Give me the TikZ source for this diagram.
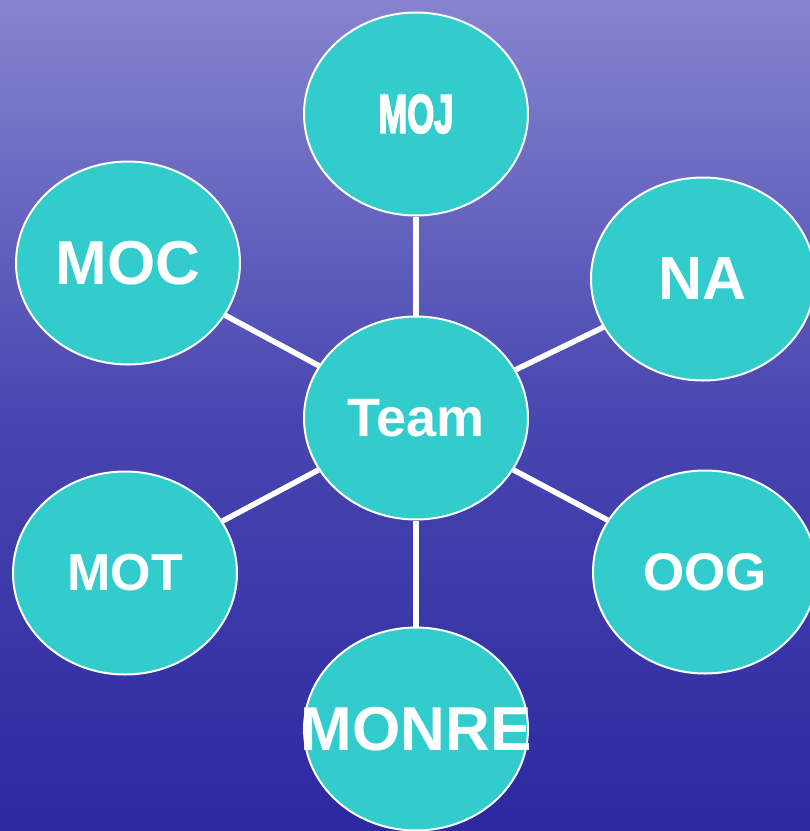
\documentclass[tikz,border=0pt]{standalone}
\usepackage{fontspec}
\setmainfont{Liberation Sans}
\newfontfamily\narrowbold{Liberation Sans}[BoldFeatures={FakeBold=4}]
\usetikzlibrary{shapes.geometric}

\definecolor{teamteal}{RGB}{51,204,204}
\definecolor{seatop}{RGB}{134,132,206}
\definecolor{seamid}{RGB}{72,70,176}
\definecolor{seabottom}{RGB}{44,40,160}

\tikzset{
    ministry/.style={ellipse, draw=white, line width=2pt, fill=teamteal,
        minimum width=224pt, minimum height=203pt, inner sep=0pt,
        text=white, font=\bfseries},
    link/.style={draw=white, line width=5.5pt}
}

\begin{document}
\begin{tikzpicture}[x=1pt, y=-1pt]
    \useasboundingbox (0,0) rectangle (810,831);
    \clip (0,0) rectangle (810,831);
    \shade[top color=seatop, bottom color=seabottom, middle color=seamid] (0,0) rectangle (810,831);

    \node[ministry] (team) at (416,418) {\fontsize{54}{60}\selectfont Team};
    \node[ministry] (moj) at (416,114) {\narrowbold\bfseries\fontsize{54}{60}\selectfont\scalebox{0.64}[1]{MOJ}};
    \node[ministry] (moc) at (128,263) {\fontsize{62}{70}\selectfont MOC};
    \node[ministry] (na) at (703,279) {\fontsize{61}{70}\selectfont NA};
    \node[ministry] (mot) at (125,573) {\fontsize{52}{60}\selectfont MOT};
    \node[ministry] (oog) at (705,572) {\fontsize{53}{60}\selectfont OOG};
    \node[ministry] (monre) at (416,729) {\fontsize{62}{70}\selectfont\makebox[0pt]{MONRE}};

    \draw[link] (team) -- (moj);
    \draw[link] (team) -- (moc);
    \draw[link] (team) -- (na);
    \draw[link] (team) -- (mot);
    \draw[link] (team) -- (oog);
    \draw[link] (team) -- (monre);
\end{tikzpicture}
\end{document}
